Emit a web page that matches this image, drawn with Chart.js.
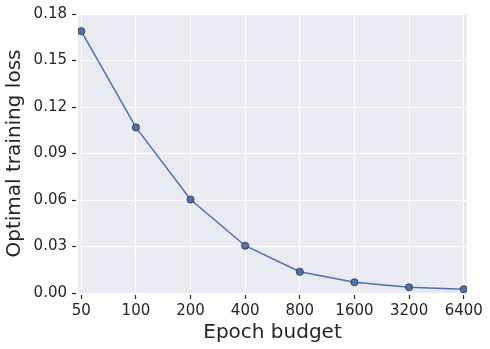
<!DOCTYPE html>
<html>
<head>
<meta charset="utf-8">
<script src="https://cdn.jsdelivr.net/npm/chart.js@4"></script>
<style>
html,body{margin:0;padding:0;background:#fff;}
#wrap{width:490px;height:349px;position:relative;}
</style>
</head>
<body>
<div id="wrap"><canvas id="c" width="490" height="349"></canvas></div>
<script>
const categories = ["50", "100", "200", "400", "800", "1600", "3200", "6400"];
const lossValues = [0.1689, 0.1068, 0.0603, 0.0305, 0.0137, 0.0069, 0.0037, 0.0024];
const yTicks = [0, 0.03, 0.06, 0.09, 0.12, 0.15, 0.18];

const textColor = '#262626';
const bgPlugin = {
  id: 'bg',
  beforeDraw(chart) {
    const {ctx, chartArea: a} = chart;
    ctx.save();
    ctx.fillStyle = '#EAEAF2';
    ctx.fillRect(a.left, a.top, a.right - a.left, a.bottom - a.top);
    ctx.restore();
  }
};

new Chart(document.getElementById('c'), {
  type: 'line',
  data: {
    datasets: [{
      data: lossValues.map((v, i) => ({x: i, y: v})),
      borderColor: '#4C72B0',
      backgroundColor: '#4C72B0',
      borderWidth: 1.5,
      pointRadius: 3.6,
      pointBorderColor: '#333333',
      pointBorderWidth: 0.8,
      pointBackgroundColor: '#4C72B0',
      tension: 0
    }]
  },
  options: {
    responsive: false,
    animation: false,
    devicePixelRatio: 1,
    layout: {padding: {top: 14, right: 23, left: 0, bottom: 0}},
    plugins: {legend: {display: false}, tooltip: {enabled: false}},
    scales: {
      x: {
        type: 'linear',
        min: -0.06,
        max: 7.06,
        afterBuildTicks(s) { s.ticks = categories.map((c, i) => ({value: i})); },
        afterFit(s) { s.height = 56; },
        ticks: {
          callback: (v) => categories[v],
          color: textColor,
          font: {family: 'DejaVu Sans', size: 15},
          padding: 3,
          maxRotation: 0,
          autoSkip: false
        },
        grid: {
          color: '#ffffff',
          lineWidth: 1,
          tickColor: textColor,
          tickLength: 6,
          tickWidth: 1.2,
          tickBorderDash: [4, 2],
          tickBorderDashOffset: 4
        },
        border: {display: false},
        title: {
          display: true,
          text: 'Epoch budget',
          color: textColor,
          font: {family: 'DejaVu Sans', size: 20},
          padding: {top: 0, bottom: 4}
        }
      },
      y: {
        min: 0,
        max: 0.18,
        afterBuildTicks(s) { s.ticks = yTicks.map(v => ({value: v})); },
        afterFit(s) { s.width = 78; },
        ticks: {
          callback: (v) => Number(v).toFixed(2),
          color: textColor,
          font: {family: 'DejaVu Sans', size: 15},
          padding: 5
        },
        grid: {
          color: '#ffffff',
          lineWidth: 1,
          tickColor: textColor,
          tickLength: 6,
          tickWidth: 1.2,
          tickBorderDash: [4, 2]
        },
        border: {display: false},
        title: {
          display: true,
          text: 'Optimal training loss',
          color: textColor,
          font: {family: 'DejaVu Sans', size: 20},
          padding: {top: 3, bottom: 0}
        }
      }
    }
  },
  plugins: [bgPlugin]
});
</script>
</body>
</html>
